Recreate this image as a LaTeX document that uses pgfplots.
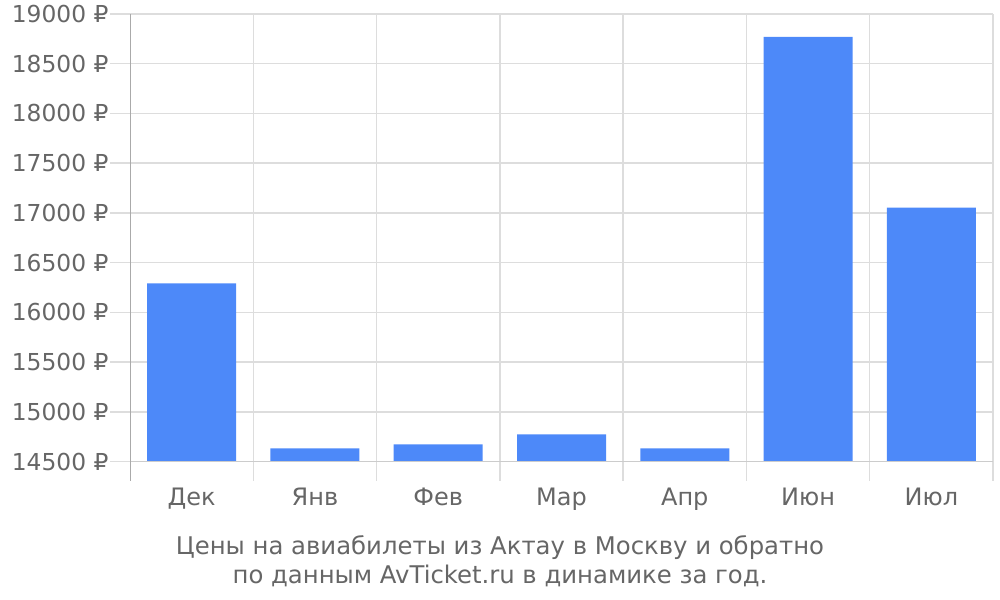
\documentclass[border=0pt]{standalone}
\usepackage{fontspec}
\setmainfont{DejaVu Sans}
\usepackage{pgfplots}
\pgfplotsset{compat=1.18}
\usepackage{pgfplotstable}
\definecolor{barblue}{HTML}{4D89F9}
\definecolor{txt}{HTML}{666666}
\definecolor{gridc}{HTML}{DDDDDD}
\definecolor{basec}{HTML}{CCCCCC}
\definecolor{axc}{HTML}{AAAAAA}
\pgfplotstableread{
x v
0.5 16293
1.5 14635
2.5 14675
3.5 14775
4.5 14635
5.5 18769
6.5 17053
}\prices
\begin{document}
\begin{tikzpicture}
\useasboundingbox (0,0) rectangle (750pt,450pt);
\begin{axis}[
 at={(97.5pt,89.25pt)}, anchor=south west,
 scale only axis, width=647.25pt, height=350.25pt,
 xmin=0, xmax=7, ymin=-194, ymax=4500,
 axis line style={draw=none},
 xtick={0.5,1.5,2.5,3.5,4.5,5.5,6.5},
 xticklabels={Дек,Янв,Фев,Мар,Апр,Июн,Июл},
 minor xtick={1,2,3,4,5,6,7},
 xmajorgrids=false, xminorgrids=true,
 minor grid style={gridc, line width=1.1pt},
 ytick={0,500,1000,1500,2000,2500,3000,3500,4000,4500},
 yticklabels={14500 ₽,15000 ₽,15500 ₽,16000 ₽,16500 ₽,17000 ₽,17500 ₽,18000 ₽,18500 ₽,19000 ₽},
 ymajorgrids=true,
 major grid style={gridc, line width=1.1pt},
 ytick pos=left, tick align=outside,
 major tick length=15pt,
 ytick style={gridc, line width=1.1pt},
 xtick style={draw=none},
 minor tick length=0pt,
 yticklabel style={font=\fontsize{17.5}{20}\selectfont, text=txt, inner sep=0pt, xshift=-1pt},
 xticklabel style={font=\fontsize{18}{21}\selectfont, text=txt, yshift=13.5pt},
 tick label style={/pgf/number format/assume math mode=true},
]
\addplot[ybar, bar width=66.75pt, fill=barblue, draw=none] table[x=x, y expr=\thisrow{v}-14500] {\prices};
\draw[basec, line width=1.1pt] (axis cs:0,0) -- (axis cs:7,0);
\draw[axc, line width=1.1pt] (axis cs:0,-194) -- (axis cs:0,4500);
\end{axis}
\node[text=txt, align=center, font=\fontsize{18.25}{21.2}\selectfont] at (375pt,29pt)
 {Цены на авиабилеты из Актау в Москву и обратно\\по данным AvTicket.ru в динамике за год.};
\end{tikzpicture}
\end{document}
